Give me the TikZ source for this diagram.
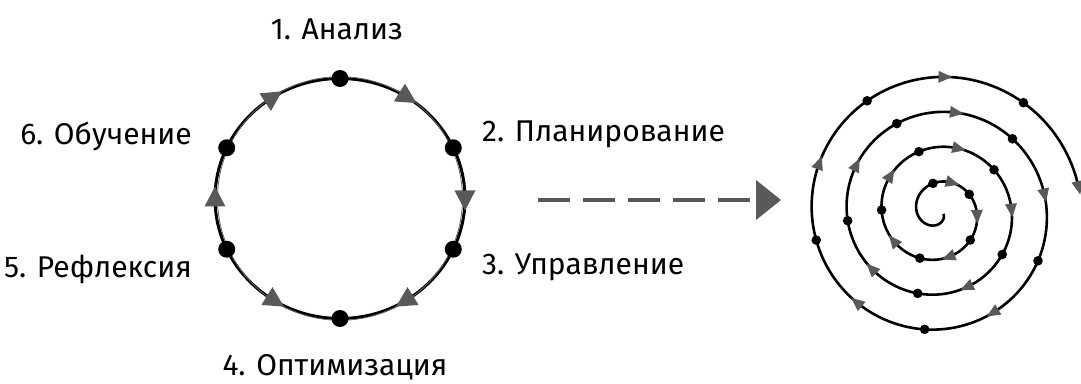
\documentclass[tikz,border=0pt]{standalone}
\usepackage{fontspec}
\setmainfont{Fira Sans}
\usetikzlibrary{arrows.meta}
\begin{document}
\begin{tikzpicture}[x=1pt,y=1pt,
  lbl/.style={font=\fontsize{30}{36}\selectfont, inner sep=0pt},
  tri/.style={fill=black!65},
  ring/.style={line width=3pt, black},
  spir/.style={line width=2.6pt, black},
  flow/.style={line width=4pt, black!65, dash pattern=on 32pt off 13pt, -{Triangle[length=25pt,width=39pt]}}
]
\useasboundingbox (0,0) rectangle (1081,383);
% ---- cycle ----
\def\cx{340}\def\cy{184.5}
\coordinate (ring) at (\cx,\cy);
\draw[ring] (ring) ellipse [x radius=125, y radius=120];
\draw[line width=0.8pt, black!60] (ring) ellipse [x radius=122.5, y radius=121.8];
\foreach \a in {90,25,-25,-90,205,155}
  \fill ({\cx+125*cos(\a)},{\cy+120*sin(\a)}) circle[radius=8.5];
\foreach \a/\d in {58/-90,0/-90,-58/-90,-122/90,180/-90,123/-90}{
  \pgfmathsetmacro\rot{\a+\d}
  \begin{scope}[shift={({\cx+125*cos(\a)},{\cy+120*sin(\a)})}, rotate=\rot]
    \fill[tri] (12,0) -- (-8,10.5) -- (-8,-10.5) -- cycle;
  \end{scope}
}
% ---- labels ----
\node[lbl, anchor=base] (l1) at (337,343) {1. Анализ};
\node[lbl, anchor=base west] (l2) at (482,241) {2. Планирование};
\node[lbl, anchor=base west] (l3) at (482,108) {3. Управление};
\node[lbl, anchor=base] (l4) at (335,8) {4. Оптимизация};
\node[lbl, anchor=base east] (l5) at (192,106) {5. Рефлексия};
\node[lbl, anchor=base east] (l6) at (192,238) {6. Обучение};
% ---- arrow ----
\coordinate (as) at (538,183);
\coordinate (ae) at (781,183);
\draw[flow] (as) -- (ae);
% ---- spiral ----
\def\sx{938}\def\sy{171}
\draw[spir, domain=-340:1070, samples=600, variable=\t]
  plot ({\sx+(30+0.097222*(\t+90))*cos(\t)},{\sy-(30+0.097222*(\t+90))*sin(\t)});
\foreach \k in {0,...,33}{
  \pgfmathsetmacro\ph{ifthenelse(\k==33,1070,-100+35.25*\k)}
  \pgfmathsetmacro\rr{30+0.097222*(\ph+90)}
  \pgfmathsetmacro\px{\sx+\rr*cos(\ph)}
  \pgfmathsetmacro\py{\sy-\rr*sin(\ph)}
  \pgfmathsetmacro\ang{-\ph-90+atan(5.57/\rr)}
  \ifodd\k
    \begin{scope}[shift={(\px,\py)}, rotate=\ang]
      \fill[tri] (7.5,0) -- (-6,6) -- (-6,-6) -- cycle;
    \end{scope}
  \else
    \fill (\px,\py) circle[radius=4.8];
  \fi
}
\end{tikzpicture}
\end{document}
